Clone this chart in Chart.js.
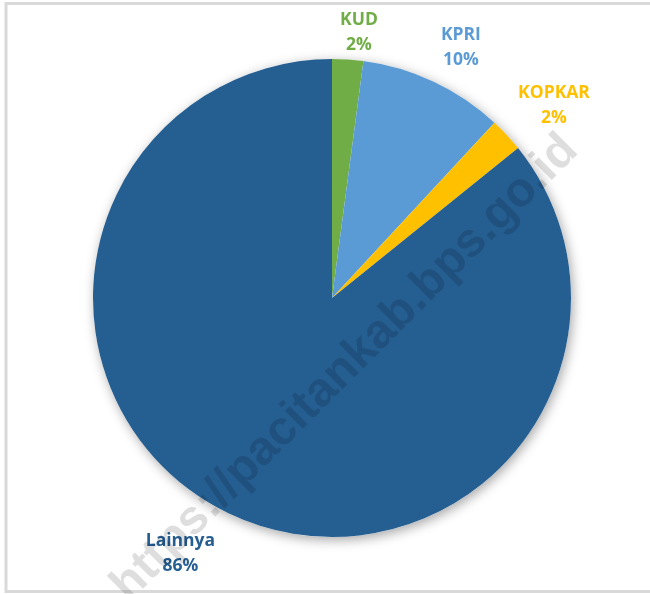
<!DOCTYPE html>
<html lang="id">
<head>
    <meta charset="UTF-8">
    <title>Koperasi</title>
    <script src="https://cdn.jsdelivr.net/npm/chart.js"></script>
    <style>
        html, body {
            margin: 0;
            padding: 0;
            background: #ffffff;
        }
        #pie {
            display: block;
        }
    </style>
</head>
<body>
    <canvas id="pie" width="650" height="594"></canvas>

    <script>
        // data
        const categories = ["KUD", "KPRI", "KOPKAR", "Lainnya"];
        const shares = [2.1, 9.8, 2.3, 85.8];
        const sliceColors = ["#70ad47", "#5b9bd5", "#ffc000", "#255e91"];
        const watermark = "https://pacitankab.bps.go.id";

        // grey frame + soft shadow under the pie
        const framePlugin = {
            id: "frame",
            beforeDraw(chart) {
                const c = chart.ctx;
                c.save();
                c.fillStyle = "#ffffff";
                c.fillRect(0, 0, chart.width, chart.height);
                c.strokeStyle = "#d9d9d9";
                c.lineWidth = 3;
                c.strokeRect(6, 3.5, 700, 588);
                c.restore();
            },
            beforeDatasetsDraw(chart) {
                const arc = chart.getDatasetMeta(0).data[0];
                if (!arc) return;
                const c = chart.ctx;
                c.save();
                c.shadowColor = "rgba(0,0,0,0.35)";
                c.shadowBlur = 12;
                c.shadowOffsetX = 2;
                c.shadowOffsetY = 3;
                c.fillStyle = "#ffffff";
                c.beginPath();
                c.arc(arc.x, arc.y, arc.outerRadius, 0, Math.PI * 2);
                c.fill();
                c.restore();
            }
        };

        // Excel-like outside labels: name on top, rounded percent below
        const labelPlugin = {
            id: "outsideLabels",
            afterDatasetsDraw(chart) {
                const meta = chart.getDatasetMeta(0);
                const data = chart.data.datasets[0].data;
                const total = data.reduce((a, b) => a + b, 0);
                const c = chart.ctx;
                c.save();
                c.font = "bold 17.5px 'Open Sans', sans-serif";
                c.textAlign = "center";
                c.textBaseline = "middle";
                meta.data.forEach((arc, i) => {
                    const mid = (arc.startAngle + arc.endAngle) / 2;
                    const lower = Math.max(0, Math.sin(mid));
                    const ang = mid + (2 + 3.5 * lower) * Math.PI / 180;
                    const r = arc.outerRadius + 26 + 40 * Math.abs(Math.cos(mid)) + 16 * lower;
                    const x = arc.x + r * Math.cos(ang);
                    const y = arc.y + r * Math.sin(ang);
                    c.fillStyle = sliceColors[i];
                    c.fillText(chart.data.labels[i], x, y - 12);
                    c.fillText(Math.round(data[i] / total * 100) + "%", x, y + 13);
                });
                c.restore();
            }
        };

        const watermarkPlugin = {
            id: "watermark",
            afterDraw(chart) {
                const c = chart.ctx;
                c.save();
                c.translate(345, 368);
                c.rotate(-Math.PI / 4);
                c.font = "bold 48px 'Liberation Sans', Arial, sans-serif";
                c.textAlign = "center";
                c.textBaseline = "middle";
                c.fillStyle = "rgba(0,0,0,0.13)";
                c.fillText(watermark, 0, 0);
                c.restore();
            }
        };

        new Chart(document.getElementById("pie"), {
            type: "pie",
            data: {
                labels: categories,
                datasets: [{
                    data: shares,
                    backgroundColor: sliceColors,
                    borderWidth: 0
                }]
            },
            options: {
                responsive: false,
                animation: false,
                layout: {
                    padding: { left: 93, right: 79, top: 59, bottom: 57 }
                },
                plugins: {
                    legend: { display: false },
                    tooltip: { enabled: false }
                }
            },
            plugins: [framePlugin, labelPlugin, watermarkPlugin]
        });
    </script>
</body>
</html>
